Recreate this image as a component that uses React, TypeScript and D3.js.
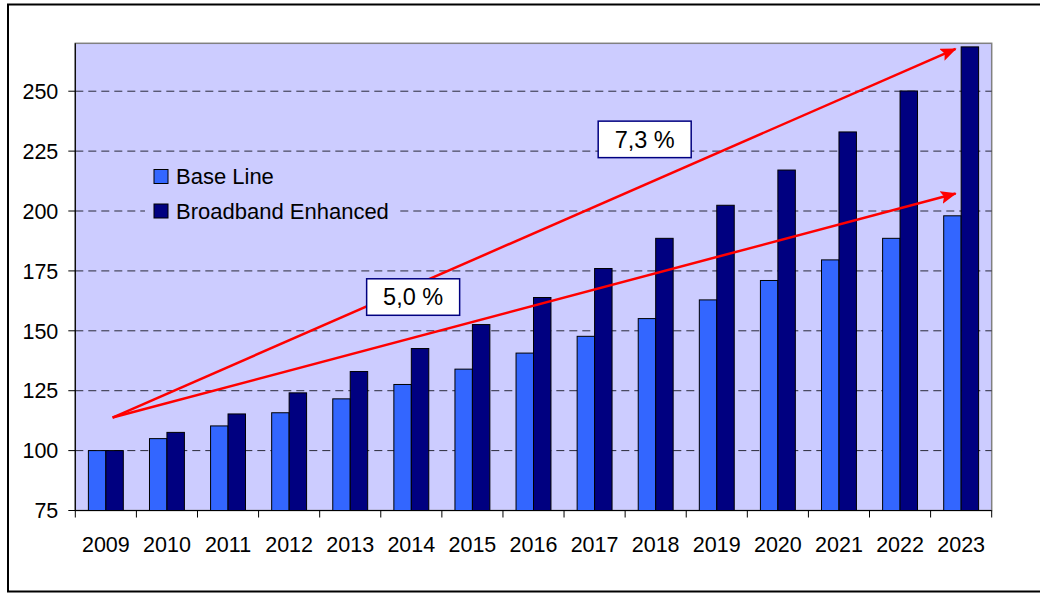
import React from "react";
import * as d3 from "d3";

const years = ["2009","2010","2011","2012","2013","2014","2015","2016","2017","2018","2019","2020","2021","2022","2023"];
const seriesNames = ["Base Line", "Broadband Enhanced"];
const baseLine = [100, 105, 110.3, 115.8, 121.6, 127.6, 134.0, 140.7, 147.7, 155.1, 162.9, 171.0, 179.6, 188.6, 198.0];
const broadband = [100, 107.6, 115.3, 124.1, 133.0, 142.6, 152.6, 163.9, 176.0, 188.6, 202.4, 217.1, 233.0, 250.1, 268.5];
const seriesColors = ["#3366FF", "#000080"];
const yTicks = [75, 100, 125, 150, 175, 200, 225, 250];
const yDomain = [75, 270];

// annotations: arrows and their labels (in data coordinates: category + fraction of band, value)
const arrowStart = { cat: "2009", frac: 0.61, value: 113.8 };
const arrows = [
  { label: "7,3 %", endCat: "2023", endFrac: 0.41, endValue: 267.7, labelCat: "2018", labelFrac: 0.32, labelValue: 230.0 },
  { label: "5,0 %", endCat: "2023", endFrac: 0.41, endValue: 207.3, labelCat: "2014", labelFrac: 0.53, labelValue: 164.2 },
];

const W = 1040, H = 594;
const plot = { left: 75.3, right: 991.7, top: 43.3, bottom: 510.5 };
const FONT = "'Liberation Sans', Arial, sans-serif";

export default function App() {
  const x0 = d3.scaleBand<string>().domain(years).range([plot.left, plot.right]).paddingInner(0).paddingOuter(0);
  const x1 = d3.scaleBand<string>().domain(seriesNames).range([0, x0.bandwidth()]).paddingInner(0).paddingOuter(0.75);
  const y = d3.scaleLinear().domain(yDomain).range([plot.bottom, plot.top]);
  const data = [baseLine, broadband];
  const bw = x0.bandwidth();
  const xAt = (cat: string, frac: number) => (x0(cat) as number) + frac * bw;

  const sx = xAt(arrowStart.cat, arrowStart.frac);
  const sy = y(arrowStart.value);

  const legendX = 145, legendY = 158;

  return (
    <svg width={W} height={H} style={{ position: "absolute", left: 0, top: 0, background: "#fff" }} fontFamily={FONT}>
      <defs>
        <marker id="arrowhead" markerUnits="userSpaceOnUse" markerWidth="16" markerHeight="14" refX="15" refY="6.5" orient="auto">
          <path d="M0,0 L16,6.5 L0,13 L3,6.5 Z" fill="#FF0000" />
        </marker>
      </defs>
      {/* outer frame */}
      <rect x={8} y={4.5} width={1040} height={587} fill="#fff" stroke="#000" strokeWidth={2} />
      {/* plot area */}
      <rect x={plot.left} y={plot.top} width={plot.right - plot.left} height={plot.bottom - plot.top} fill="#CCCCFF" stroke="#808080" strokeWidth={1.5} />
      {/* gridlines */}
      {yTicks.filter(t => t > yDomain[0]).map(t => (
        <line key={"g" + t} x1={plot.left} x2={plot.right} y1={y(t)} y2={y(t)} stroke="#2a2a3a" strokeWidth={1} strokeDasharray="8,5" />
      ))}
      {/* bars */}
      {years.map((yr, i) => (
        <g key={yr}>
          {seriesNames.map((s, si) => (
            <rect key={s}
              x={(x0(yr) as number) + (x1(s) as number)}
              y={y(data[si][i])}
              width={x1.bandwidth()}
              height={y(yDomain[0]) - y(data[si][i])}
              fill={seriesColors[si]} stroke="#000" strokeWidth={1} />
          ))}
        </g>
      ))}
      {/* axes */}
      <line x1={plot.left} x2={plot.left} y1={plot.top} y2={plot.bottom} stroke="#000" strokeWidth={1.2} />
      <line x1={plot.left} x2={plot.right} y1={plot.bottom} y2={plot.bottom} stroke="#000" strokeWidth={1.2} />
      {yTicks.map(t => (
        <g key={"yt" + t}>
          <line x1={plot.left - 7} x2={plot.left} y1={y(t)} y2={y(t)} stroke="#000" strokeWidth={1} />
          <text x={plot.left - 17} y={y(t)} dy="0.36em" textAnchor="end" fontSize={21.5} fill="#000">{t}</text>
        </g>
      ))}
      {years.concat(["__end"]).map((yr, i) => {
        const xx = i < years.length ? (x0(yr) as number) : plot.right;
        return <line key={"xt" + i} x1={xx} x2={xx} y1={plot.bottom} y2={plot.bottom + 7} stroke="#000" strokeWidth={1} />;
      })}
      {years.map(yr => (
        <text key={"xl" + yr} x={(x0(yr) as number) + bw / 2} y={552} textAnchor="middle" fontSize={21.5} fill="#000">{yr}</text>
      ))}
      {/* legend */}
      <rect x={legendX} y={legendY} width={252} height={70} fill="#CCCCFF" />
      {seriesNames.map((s, i) => (
        <g key={"lg" + s}>
          <rect x={154} y={169.5 + i * 34.5} width={14} height={14} fill={seriesColors[i]} stroke="#000" strokeWidth={1} />
          <text x={176} y={176.5 + i * 34.5} dy="0.36em" fontSize={22} fill="#000">{s}</text>
        </g>
      ))}
      {/* arrows */}
      {arrows.map(a => (
        <line key={"ar" + a.label} x1={sx} y1={sy} x2={xAt(a.endCat, a.endFrac)} y2={y(a.endValue)}
          stroke="#FF0000" strokeWidth={2.5} markerEnd="url(#arrowhead)" />
      ))}
      {/* arrow labels */}
      {arrows.map(a => {
        const cx = xAt(a.labelCat, a.labelFrac);
        const cy = y(a.labelValue);
        return (
          <g key={"al" + a.label}>
            <rect x={cx - 46.5} y={cy - 18} width={93} height={36.5} fill="#fff" stroke="#000080" strokeWidth={1.5} />
            <text x={cx} y={cy} dy="0.36em" textAnchor="middle" fontSize={23.5} fill="#000">{a.label}</text>
          </g>
        );
      })}
    </svg>
  );
}
